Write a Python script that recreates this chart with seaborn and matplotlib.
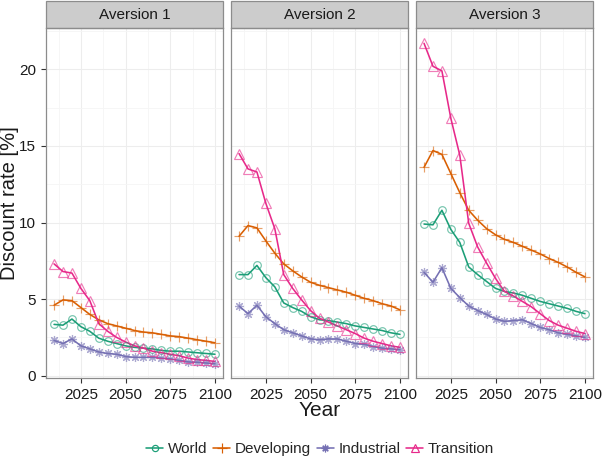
import numpy as np
import pandas as pd
import matplotlib
matplotlib.use("Agg")
import matplotlib.pyplot as plt
from matplotlib.lines import Line2D
from matplotlib.patches import Rectangle
import seaborn as sns

years = list(range(2010, 2101, 5))
facets = ["Aversion 1", "Aversion 2", "Aversion 3"]
regions = ["World", "Developing", "Industrial", "Transition"]

# Aversion 1
world_1 = [3.35, 3.3, 3.7, 3.2, 2.9, 2.45, 2.25, 2.1, 1.95, 1.85, 1.8, 1.75, 1.65, 1.6, 1.6, 1.55, 1.5, 1.45, 1.4]
developing_1 = [4.6, 4.95, 4.9, 4.45, 4.0, 3.65, 3.4, 3.25, 3.1, 2.95, 2.85, 2.8, 2.7, 2.6, 2.55, 2.45, 2.35, 2.25, 2.15]
industrial_1 = [2.3, 2.1, 2.4, 1.95, 1.75, 1.55, 1.45, 1.4, 1.25, 1.2, 1.2, 1.2, 1.15, 1.1, 1.0, 0.9, 0.88, 0.83, 0.78]
transition_1 = [7.3, 6.8, 6.7, 5.7, 4.9, 3.4, 2.9, 2.5, 2.2, 1.95, 1.8, 1.6, 1.5, 1.4, 1.3, 1.15, 1.05, 1.0, 0.93]

# Aversion 2
world_2 = [6.6, 6.6, 7.2, 6.4, 5.8, 4.75, 4.45, 4.2, 3.85, 3.65, 3.6, 3.5, 3.4, 3.25, 3.15, 3.05, 2.95, 2.8, 2.7]
developing_2 = [9.1, 9.8, 9.65, 8.8, 8.0, 7.3, 6.85, 6.45, 6.1, 5.9, 5.75, 5.6, 5.45, 5.25, 5.05, 4.9, 4.7, 4.55, 4.3]
industrial_2 = [4.55, 4.05, 4.6, 3.85, 3.4, 3.0, 2.8, 2.6, 2.4, 2.35, 2.4, 2.4, 2.25, 2.1, 2.05, 1.9, 1.8, 1.75, 1.7]
transition_2 = [14.5, 13.5, 13.3, 11.25, 9.6, 6.6, 5.7, 4.95, 4.25, 3.75, 3.5, 3.25, 3.0, 2.75, 2.45, 2.25, 2.1, 1.95, 1.85]

# Aversion 3
world_3 = [9.9, 9.85, 10.8, 9.55, 8.7, 7.1, 6.6, 6.15, 5.7, 5.5, 5.4, 5.25, 5.05, 4.85, 4.7, 4.55, 4.4, 4.2, 4.05]
developing_3 = [13.6, 14.7, 14.45, 13.2, 11.95, 10.8, 10.15, 9.6, 9.2, 8.9, 8.7, 8.45, 8.2, 7.95, 7.65, 7.4, 7.1, 6.75, 6.45]
industrial_3 = [6.75, 6.1, 7.05, 5.7, 5.1, 4.55, 4.25, 4.0, 3.7, 3.55, 3.6, 3.65, 3.4, 3.15, 3.0, 2.8, 2.7, 2.6, 2.5]
transition_3 = [21.7, 20.2, 19.9, 16.8, 14.4, 9.95, 8.4, 7.35, 6.35, 5.5, 5.2, 4.85, 4.5, 4.05, 3.6, 3.3, 3.1, 2.9, 2.75]

series = {
    "Aversion 1": [world_1, developing_1, industrial_1, transition_1],
    "Aversion 2": [world_2, developing_2, industrial_2, transition_2],
    "Aversion 3": [world_3, developing_3, industrial_3, transition_3],
}

rows = []
for f in facets:
    for reg, vals in zip(regions, series[f]):
        for y, v in zip(years, vals):
            rows.append({"Aversion": f, "Region": reg, "Year": y, "Rate": v})
df = pd.DataFrame(rows)

palette = dict(zip(regions, ["#1B9E77", "#D95F02", "#7570B3", "#E7298A"]))
markers = {"World": "o", "Developing": "+", "Industrial": (8, 2, 0), "Transition": "^"}
msize = {"World": 5.5, "Developing": 7.5, "Industrial": 6.5, "Transition": 6.5}

sns.set_theme(style="white")
plt.rcParams["font.family"] = ["Liberation Sans", "DejaVu Sans"]

fig, axes = plt.subplots(1, 3, figsize=(6.02, 4.58), dpi=100, sharey=True)
fig.subplots_adjust(left=46/602, right=593/602, top=1-28/458, bottom=1-378/458, wspace=0.045)

for ax, f in zip(axes, facets):
    sub = df[df["Aversion"] == f]
    sns.lineplot(data=sub, x="Year", y="Rate", hue="Region", palette=palette,
                 hue_order=regions, ax=ax, legend=False, linewidth=1.15, zorder=3)
    for reg in regions:
        d = sub[sub["Region"] == reg]
        ax.plot(d["Year"], d["Rate"], linestyle="none", marker=markers[reg],
                markersize=msize[reg], markerfacecolor="none",
                markeredgecolor=palette[reg], markeredgewidth=0.85, alpha=0.6, zorder=4)
    ax.set_xlim(2005.5, 2104.5)
    ax.set_ylim(-0.15, 22.7)
    ax.set_xticks([2025, 2050, 2075, 2100])
    ax.set_xticks([2012.5, 2037.5, 2062.5, 2087.5], minor=True)
    ax.set_yticks([0, 5, 10, 15, 20])
    ax.set_yticks([2.5, 7.5, 12.5, 17.5, 22.5], minor=True)
    ax.grid(True, which="major", color="#EDEDED", linewidth=0.8)
    ax.grid(True, which="minor", color="#F5F5F5", linewidth=0.6)
    ax.set_axisbelow(True)
    for s in ax.spines.values():
        s.set_color("#8C8C8C")
        s.set_linewidth(0.9)
    ax.tick_params(axis="both", which="major", length=3.5, width=0.8, color="#333333",
                   labelsize=11, labelcolor="#1a1a1a", direction="out", bottom=True, left=True)
    ax.tick_params(axis="both", which="minor", length=0)
    ax.set_xlabel("")
    ax.set_ylabel("")
    ax.add_patch(Rectangle((0, 1), 1, 27/350, transform=ax.transAxes, clip_on=False,
                           facecolor="#CCCCCC", edgecolor="#8C8C8C", linewidth=0.9))
    ax.text(0.5, 1 + 13.5/350, f, transform=ax.transAxes, ha="center", va="center",
            fontsize=11, color="#1a1a1a")

for ax in axes[1:]:
    ax.tick_params(axis="y", left=False)

fig.text(320/602, 1-411/458, "Year", ha="center", va="center", fontsize=15, color="#1a1a1a")
fig.text(10/602, 1-203/458, "Discount rate [%]", rotation=90, ha="center", va="center",
         fontsize=14.5, color="#1a1a1a")

handles = [Line2D([0], [0], color=palette[r], linewidth=1.15, marker=markers[r],
                  markersize=msize[r] - 1, markerfacecolor="none",
                  markeredgecolor=palette[r], markeredgewidth=0.85)
           for r in regions]
fig.legend(handles, regions, loc="center", bbox_to_anchor=(320/602, 1-449/458), ncol=4,
           frameon=False, fontsize=11, handlelength=1.1, handletextpad=0.3,
           columnspacing=0.4, borderaxespad=0)

fig.savefig("out.png", dpi=100)
